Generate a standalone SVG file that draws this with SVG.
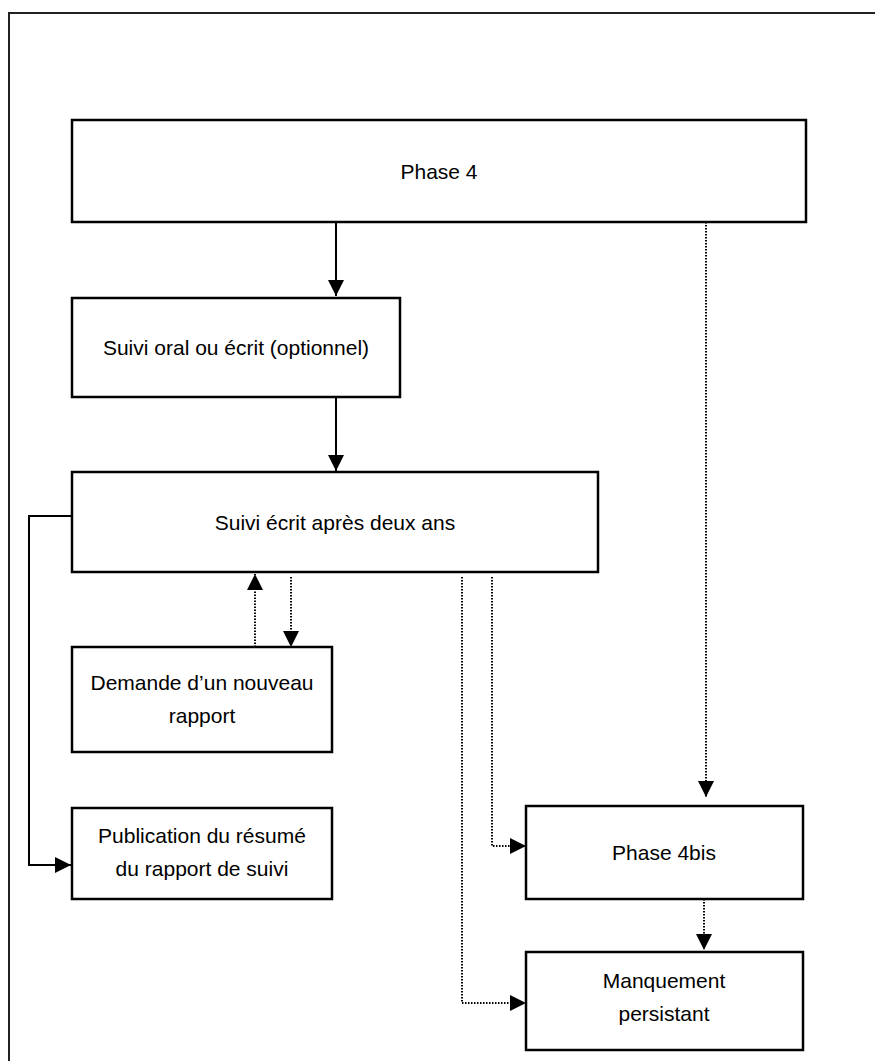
<svg xmlns="http://www.w3.org/2000/svg" width="875" height="1061" viewBox="0 0 875 1061">
<defs>
<marker id="ah" markerUnits="userSpaceOnUse" markerWidth="16" markerHeight="16" viewBox="0 0 16 16" refX="16" refY="8" orient="auto">
<path d="M0,0 L16,8 L0,16 Z" fill="#000"/>
</marker>
<style>
.box{fill:#fff;stroke:#000;stroke-width:2.5}
.t{font-family:"Liberation Sans",Arial,sans-serif;font-size:21px;fill:#000;text-anchor:middle}
.s{fill:none;stroke:#000;stroke-width:2}
.d{fill:none;stroke:#000;stroke-width:2;stroke-dasharray:1.5 1.5}
</style>
</defs>
<rect x="0" y="0" width="875" height="1061" fill="#fff"/>
<rect x="9" y="13" width="900" height="1100" fill="none" stroke="#222" stroke-width="2"/>
<g id="connectors">
<line class="s" x1="336" y1="223" x2="336" y2="296" marker-end="url(#ah)"/>
<line class="s" x1="336" y1="398" x2="336" y2="471" marker-end="url(#ah)"/>
<polyline class="s" points="72,516 29,516 29,865 71,865" marker-end="url(#ah)"/>
<line class="d" x1="255" y1="647" x2="255" y2="574" marker-end="url(#ah)"/>
<line class="d" x1="291" y1="577" x2="291" y2="647" marker-end="url(#ah)"/>
<polyline class="d" points="462,577 462,1003 526,1003" marker-end="url(#ah)"/>
<polyline class="d" points="492,577 492,846 526,846" marker-end="url(#ah)"/>
<line class="d" x1="706" y1="189" x2="706" y2="797" marker-end="url(#ah)"/>
<line class="d" x1="704" y1="899" x2="704" y2="950" marker-end="url(#ah)"/>
</g>
<g id="phase4">
<rect class="box" x="72" y="120" width="734" height="102"/>
<text class="t" x="439" y="179">Phase 4</text>
</g>
<g id="suivi-oral">
<rect class="box" x="72" y="298" width="328" height="99"/>
<text class="t" x="236" y="355">Suivi oral ou écrit (optionnel)</text>
</g>
<g id="suivi-ecrit">
<rect class="box" x="72" y="472" width="526" height="100"/>
<text class="t" x="335" y="530">Suivi écrit après deux ans</text>
</g>
<g id="demande">
<rect class="box" x="72" y="647" width="260" height="105"/>
<text class="t" x="202" y="690">Demande d’un nouveau</text>
<text class="t" x="202" y="723">rapport</text>
</g>
<g id="publication">
<rect class="box" x="72" y="808" width="260" height="91"/>
<text class="t" x="202" y="843">Publication du résumé</text>
<text class="t" x="202" y="876">du rapport de suivi</text>
</g>
<g id="phase4bis">
<rect class="box" x="526" y="806" width="277" height="93"/>
<text class="t" x="664" y="860">Phase 4bis</text>
</g>
<g id="manquement">
<rect class="box" x="526" y="952" width="277" height="98"/>
<text class="t" x="664" y="988">Manquement</text>
<text class="t" x="664" y="1021">persistant</text>
</g>
</svg>
